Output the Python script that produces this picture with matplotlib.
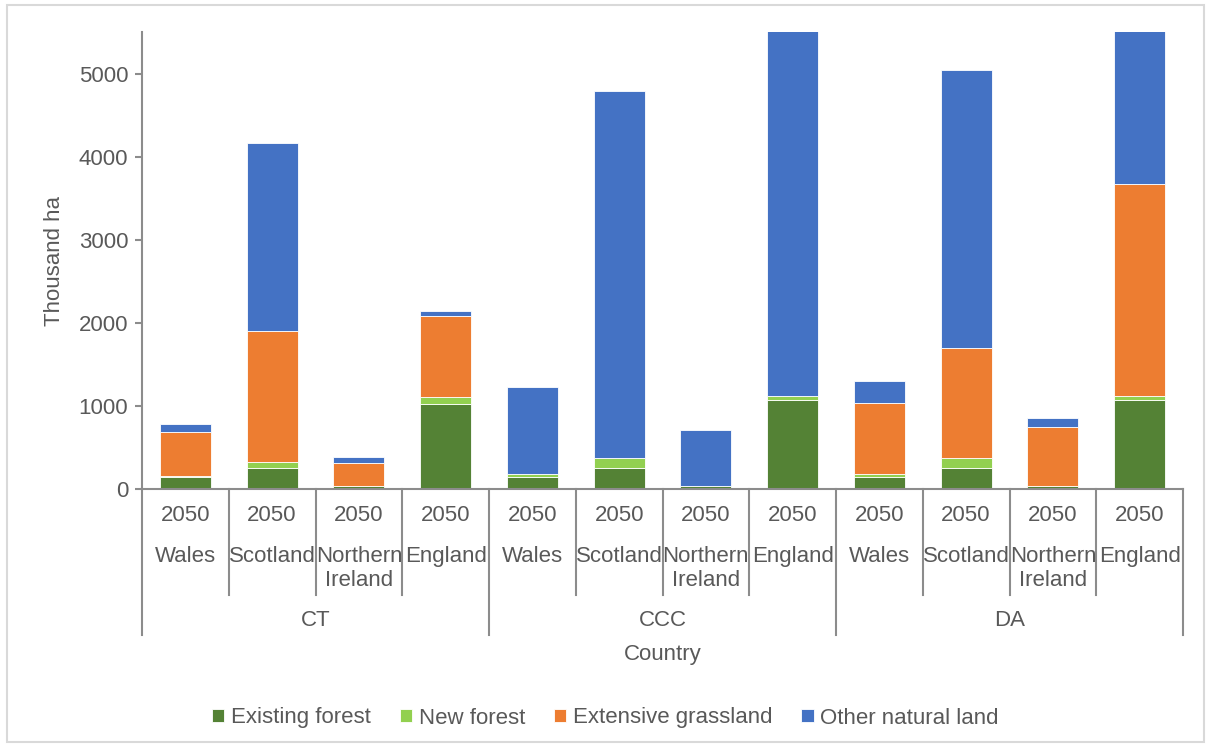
import matplotlib.pyplot as plt
import matplotlib.patches as mpatches
import numpy as np

plt.rcParams['font.family'] = ['Liberation Sans', 'DejaVu Sans']

# Dados em mil hectares por cenário e país
cenarios = ['CT', 'CCC', 'DA']
paises = ['Wales', 'Scotland', 'Northern\nIreland', 'England']
ano = '2050'

floresta_existente = [148, 256, 32, 1025, 144, 256, 32, 1066, 144, 256, 32, 1066]
floresta_nova = [12, 72, 3, 81, 40, 117, 2, 55, 40, 117, 3, 55]
pastagem_extensiva = [525, 1571, 277, 974, 0, 0, 0, 0, 853, 1322, 706, 2545]
outra_terra_natural = [100, 2271, 73, 60, 1038, 4411, 681, 5000, 257, 3353, 112, 2500]

series = [
    ('Existing forest', floresta_existente, '#548235'),
    ('New forest', floresta_nova, '#92D050'),
    ('Extensive grassland', pastagem_extensiva, '#ED7D31'),
    ('Other natural land', outra_terra_natural, '#4472C4'),
]

cinza = '#595959'
cinza_eixo = '#8c8c8c'
tam = 16

fig = plt.figure(figsize=(12.11, 7.47), dpi=100)
ax = fig.add_axes([142 / 1211, 1 - 489 / 747, (1183 - 142) / 1211, (489 - 32) / 747])

x = np.arange(len(floresta_existente))
base = np.zeros(len(x))
for nome, valores, cor in series:
    ax.bar(x, valores, bottom=base, width=0.59, color=cor, label=nome,
           edgecolor='white', linewidth=0.6)
    base += np.array(valores)

ax.set_xlim(-0.5, len(x) - 0.5)
ax.set_ylim(0, 5500)
ax.set_yticks(range(0, 6000, 1000))
ax.tick_params(axis='y', colors=cinza_eixo, labelcolor=cinza, labelsize=tam,
               length=5, width=1.5, pad=5)
ax.set_xticks([])
for lado in ['top', 'right']:
    ax.spines[lado].set_visible(False)
ax.spines['left'].set_color(cinza_eixo)
ax.spines['bottom'].set_color(cinza_eixo)
ax.spines['left'].set_linewidth(1.5)
ax.spines['bottom'].set_linewidth(1.5)
ax.set_ylabel('Thousand ha', color=cinza, fontsize=tam, labelpad=10)

# Eixo categórico em dois níveis
trans = ax.get_xaxis_transform()
for i in range(len(x) + 1):
    pos = i - 0.5
    fundo = -0.319 if i % 4 == 0 else -0.232
    ax.plot([pos, pos], [0, fundo], transform=trans, color=cinza_eixo,
            lw=1.5, clip_on=False)

for i in x:
    ax.text(i, -0.057, ano, transform=trans, ha='center', va='center',
            color=cinza, fontsize=tam)
    ax.text(i, -0.124, paises[i % 4], transform=trans, ha='center', va='top',
            color=cinza, fontsize=tam, linespacing=1.2)

for j, c in enumerate(cenarios):
    ax.text(j * 4 + 1.5, -0.287, c, transform=trans, ha='center', va='center',
            color=cinza, fontsize=tam)

ax.text(5.5, -0.363, 'Country', transform=trans, ha='center', va='center',
        color=cinza, fontsize=tam)

fig.legend(loc='center', bbox_to_anchor=(0.5, 1 - 718 / 747), ncol=4,
           frameon=False, fontsize=tam, labelcolor=cinza, handlelength=0.55,
           handleheight=0.55, handletextpad=0.3, columnspacing=1.3)

# Moldura em volta do gráfico
fig.patches.append(mpatches.Rectangle((7 / 1211, 5 / 747), 1 - 14 / 1211, 1 - 10 / 747,
                                      transform=fig.transFigure, fill=False,
                                      edgecolor='#d9d9d9', linewidth=1.5))

fig.savefig('out.png', dpi=100)
